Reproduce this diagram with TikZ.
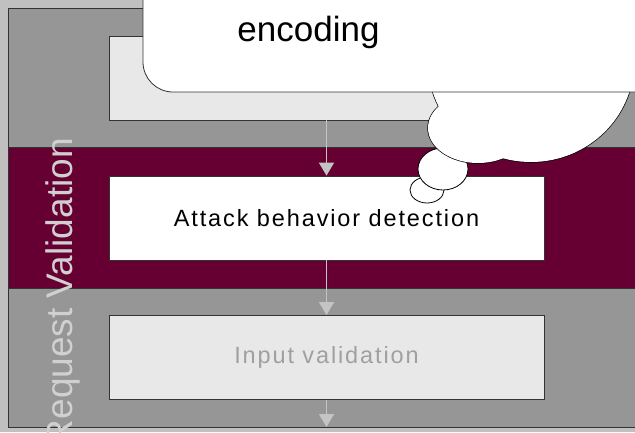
\documentclass[tikz,border=0pt]{standalone}
\usepackage{fontspec}
\setmainfont{Liberation Sans}
\usetikzlibrary{arrows.meta}
\definecolor{bggray}{HTML}{C0C0C0}
\definecolor{panelgray}{HTML}{969696}
\definecolor{bandred}{HTML}{660033}
\definecolor{boxgray}{HTML}{E8E8E8}
\definecolor{edgegray}{HTML}{333333}
\definecolor{flowgray}{HTML}{C4C4C4}
\definecolor{lanetext}{HTML}{D0D0D0}
\definecolor{fadetext}{HTML}{A0A0A0}
\tikzset{
	procbox/.style={draw=edgegray,line width=0.8pt,minimum width=435pt,minimum height=84pt,inner sep=0pt,
		font=\fontsize{23.5}{28}\selectfont\addfontfeature{LetterSpace=8}},
	flow/.style={draw=flowgray,line width=1.5pt,-{Triangle[width=15pt,length=13pt]}},
	bubble/.style={draw=black,line width=0.8pt,fill=white},
}
\begin{document}
\begin{tikzpicture}[x=1pt,y=-1pt]
%background
\fill[bggray] (0,0) rectangle (635,432);
\useasboundingbox (0,0) rectangle (635,432);
%panel and band
\draw[draw=edgegray,fill=panelgray,line width=0.8pt] (8,8) rectangle (680,427);
\draw[draw=edgegray,fill=bandred,line width=0.8pt] (8,147) rectangle (680,288);
%steps
\node[procbox,fill=boxgray] (norm) at (326.5,78) {};
\node[procbox,fill=white] (attack) at (326.5,218) {Attack behavior detection};
\node[procbox,fill=boxgray,text=fadetext] (input) at (326.5,357.5) {Input validation};
\coordinate (out) at (326.5,427);
%flow
\draw[flow] (norm) -- (attack);
\draw[flow] (attack) -- (input);
\draw[flow] (input) -- (out);
%thought bubbles
\draw[bubble] (427,190) ellipse [x radius=17, y radius=13];
\draw[bubble] (443,169) ellipse [x radius=25, y radius=21];
\draw[bubble,line width=1.4pt] (478,128) ellipse [x radius=50, y radius=35];
\draw[bubble,line width=1.4pt] (531,62) ellipse [x radius=103, y radius=100];
\fill[white] (478,128) ellipse [x radius=50, y radius=35];
\fill[white] (531,62) ellipse [x radius=103, y radius=100];
%callout
\draw[draw=edgegray,fill=white,line width=0.8pt,rounded corners=30pt] (143,-150) rectangle (700,92);
\node[anchor=base,font=\fontsize{35}{40}\selectfont] (enc) at (308.5,41) {encoding};
%lane label
\node[rotate=90,anchor=base east,text=lanetext,inner sep=0pt,font=\fontsize{37}{44}\selectfont] (lane) at (72,138) {Request Validation};
\end{tikzpicture}
\end{document}
